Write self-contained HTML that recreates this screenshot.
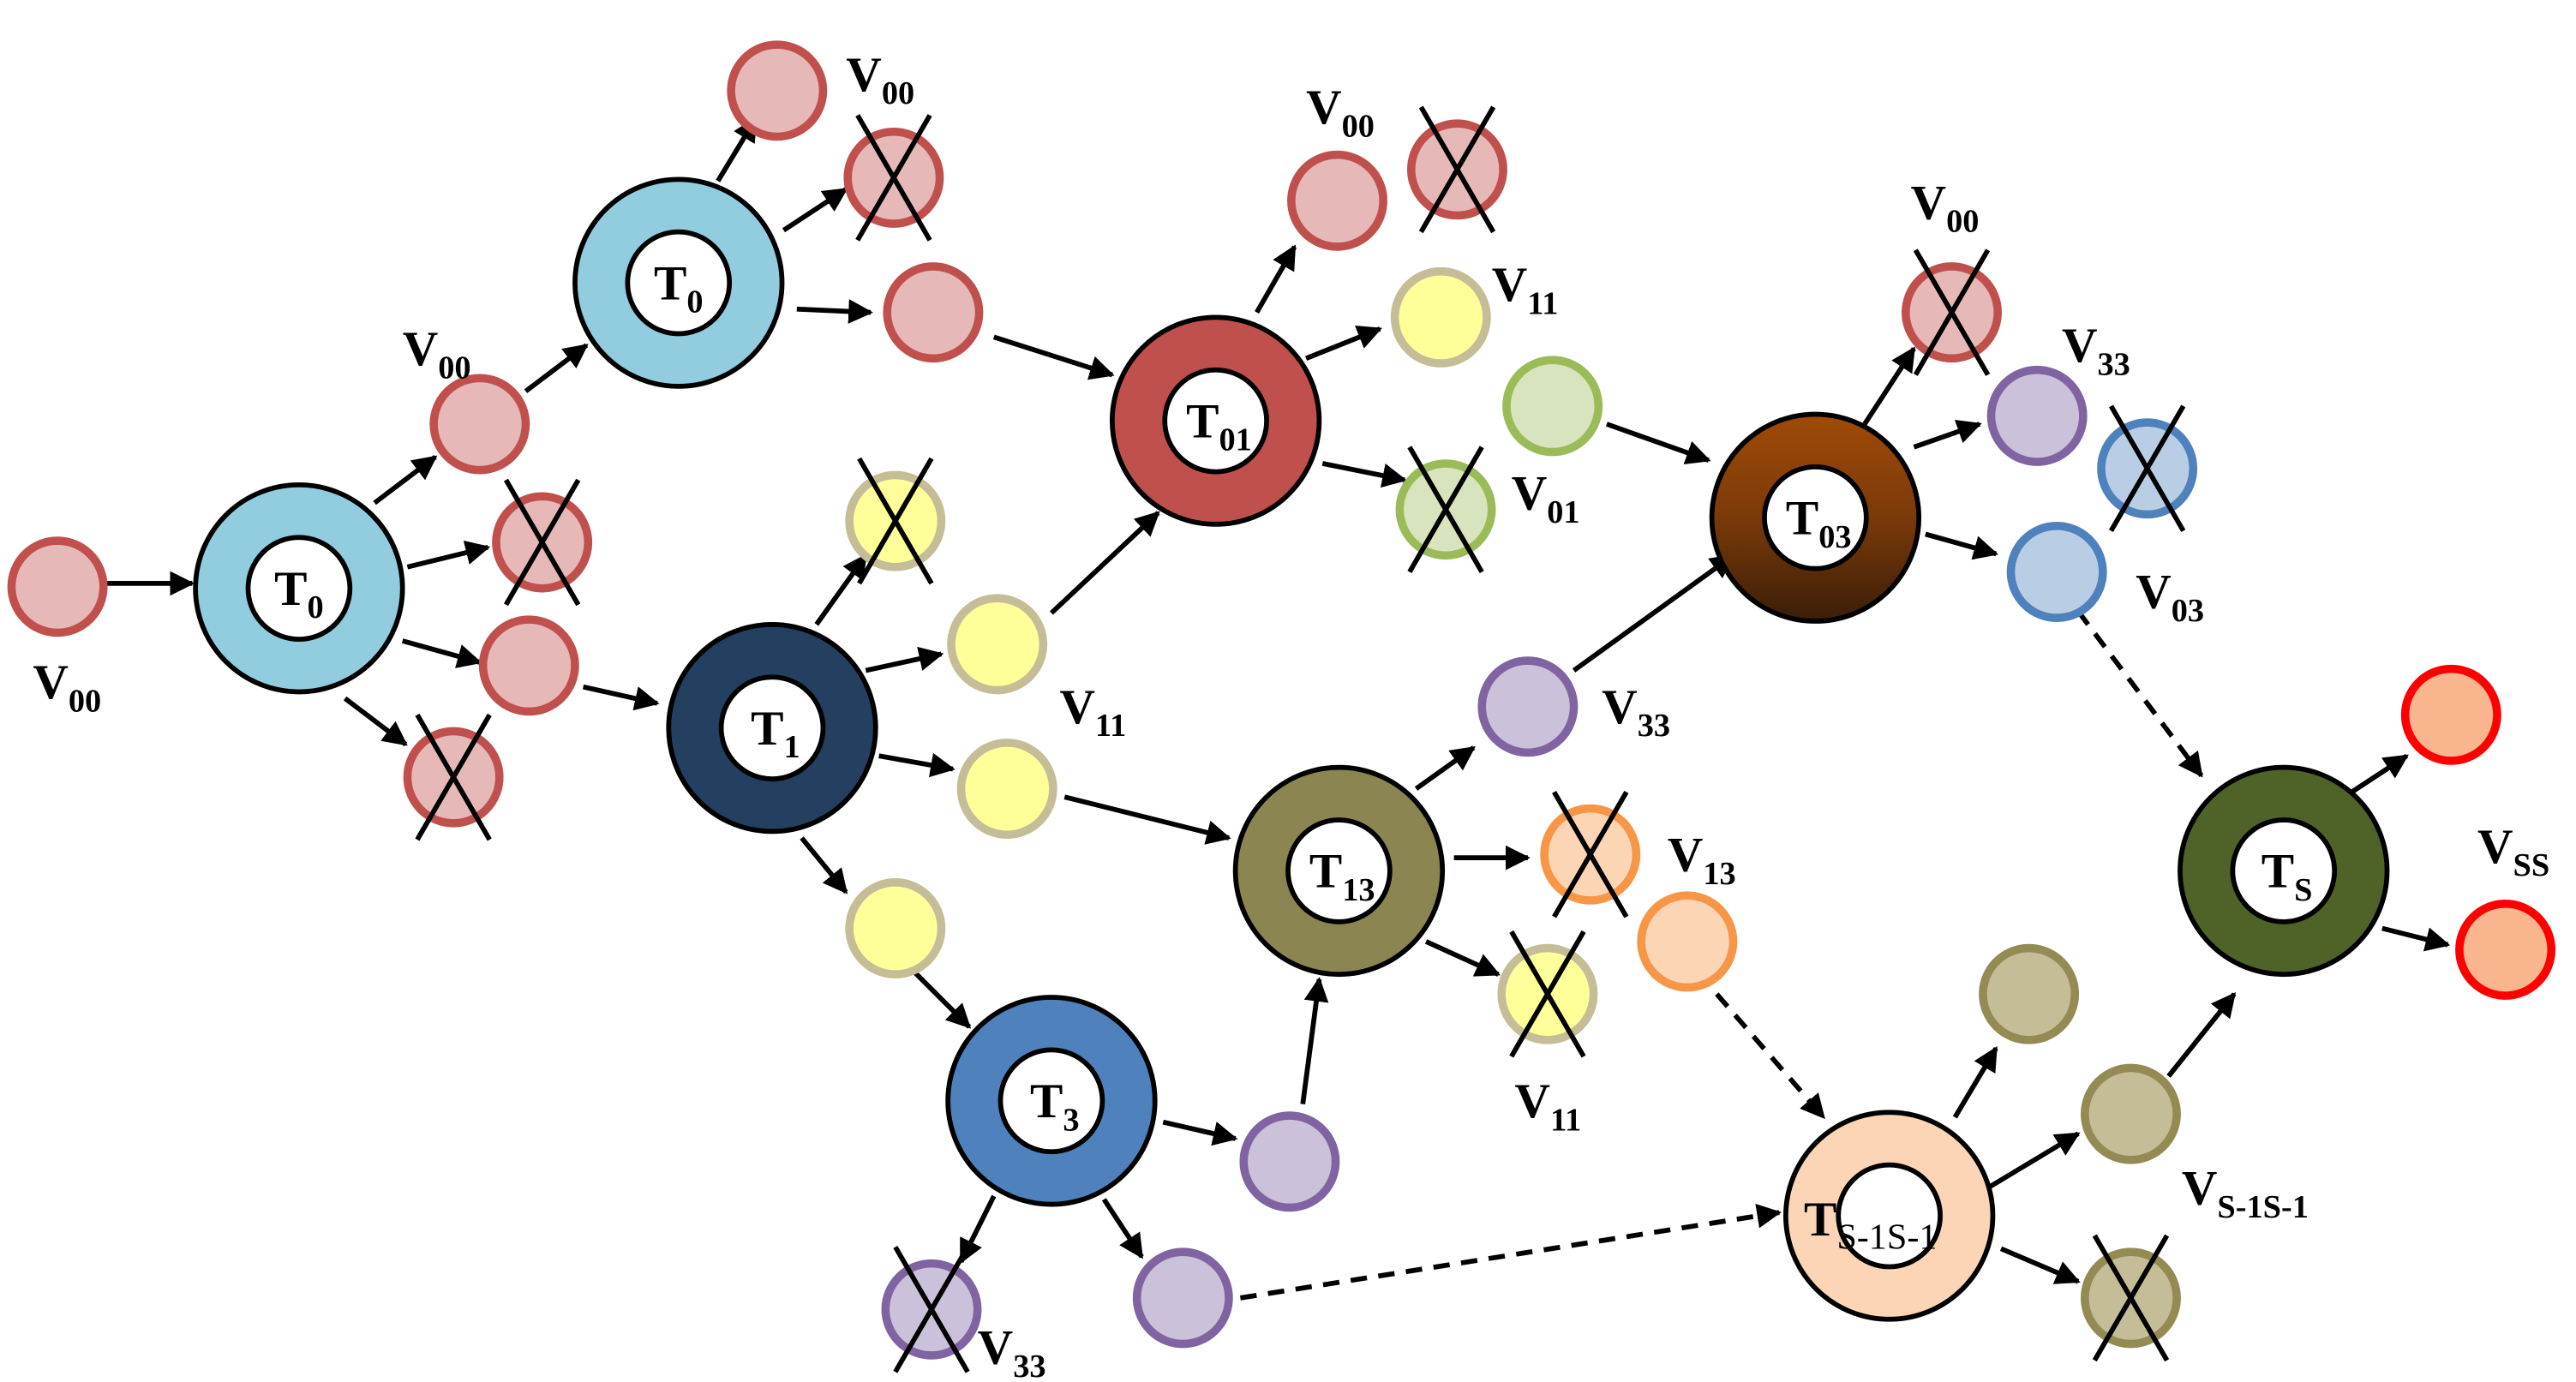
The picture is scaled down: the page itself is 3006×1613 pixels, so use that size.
<!DOCTYPE html>
<html><head><meta charset="utf-8"><style>html,body{margin:0;padding:0;background:#fff}svg{display:block}</style></head>
<body>
<svg width="3006" height="1613" viewBox="0 0 1568 841" xmlns="http://www.w3.org/2000/svg" font-family="Liberation Serif, serif">
<defs>
<marker id="a" viewBox="0 0 10 10" refX="9" refY="5" markerWidth="5" markerHeight="5" orient="auto" markerUnits="strokeWidth"><path d="M0,0L10,5L0,10z" fill="#000"/></marker>
<linearGradient id="br" x1="0" y1="0" x2="0" y2="1"><stop offset="0" stop-color="#A04A08"/><stop offset="0.5" stop-color="#7A3A0A"/><stop offset="1" stop-color="#3A1E08"/></linearGradient>
<g id="x"><line x1="-22" y1="-38" x2="22" y2="38" stroke="#000" stroke-width="3"/><line x1="22" y1="-38" x2="-22" y2="38" stroke="#000" stroke-width="3"/></g>
</defs>
<g stroke="#000" stroke-width="3" marker-end="url(#a)" fill="none">
<line x1="65" y1="355" x2="117" y2="355"/>
<line x1="228" y1="306" x2="265" y2="278"/>
<line x1="248" y1="345" x2="297" y2="333"/>
<line x1="245" y1="390" x2="292" y2="403"/>
<line x1="210" y1="425" x2="247" y2="453"/>
<line x1="320" y1="238" x2="357" y2="210"/>
<line x1="437" y1="110" x2="460" y2="72"/>
<line x1="477" y1="140" x2="515" y2="115"/>
<line x1="485" y1="188" x2="530" y2="190"/>
<line x1="605" y1="205" x2="677" y2="228"/>
<line x1="765" y1="190" x2="788" y2="150"/>
<line x1="795" y1="218" x2="840" y2="200"/>
<line x1="805" y1="282" x2="855" y2="292"/>
<line x1="355" y1="418" x2="400" y2="428"/>
<line x1="497" y1="380" x2="527" y2="338"/>
<line x1="527" y1="408" x2="573" y2="398"/>
<line x1="535" y1="460" x2="580" y2="468"/>
<line x1="488" y1="510" x2="515" y2="543"/>
<line x1="640" y1="373" x2="705" y2="312"/>
<line x1="648" y1="485" x2="748" y2="510"/>
<line x1="862" y1="480" x2="897" y2="455"/>
<line x1="885" y1="522" x2="930" y2="522"/>
<line x1="868" y1="573" x2="912" y2="593"/>
<line x1="958" y1="408" x2="1055" y2="338"/>
<line x1="978" y1="258" x2="1040" y2="280"/>
<line x1="1135" y1="258" x2="1165" y2="212"/>
<line x1="1165" y1="272" x2="1205" y2="258"/>
<line x1="1172" y1="325" x2="1215" y2="337"/>
<line x1="1430" y1="483" x2="1465" y2="460"/>
<line x1="1450" y1="565" x2="1490" y2="575"/>
<line x1="555" y1="590" x2="590" y2="625"/>
<line x1="708" y1="683" x2="752" y2="693"/>
<line x1="605" y1="728" x2="585" y2="768"/>
<line x1="672" y1="730" x2="695" y2="765"/>
<line x1="793" y1="672" x2="803" y2="596"/>
<line x1="1190" y1="680" x2="1215" y2="638"/>
<line x1="1210" y1="723" x2="1265" y2="690"/>
<line x1="1218" y1="760" x2="1265" y2="780"/>
<line x1="1320" y1="655" x2="1360" y2="605"/>
<g stroke-dasharray="10,7">
<line x1="1265" y1="372" x2="1340" y2="472"/>
<line x1="755" y1="790" x2="1083" y2="738"/>
<line x1="1045" y1="605" x2="1110" y2="680"/>
</g>
</g>
<g stroke-width="5">
<g fill="#E6B9B8" stroke="#C0504D">
<circle cx="35" cy="357" r="28"/><circle cx="292" cy="258" r="28"/><circle cx="330" cy="330" r="28"/><circle cx="322" cy="405" r="28"/><circle cx="276" cy="473" r="28"/>
<circle cx="473" cy="55" r="28"/><circle cx="544" cy="108" r="28"/><circle cx="568" cy="190" r="28"/><circle cx="814" cy="122" r="28"/><circle cx="887" cy="103" r="28"/><circle cx="1188" cy="190" r="28"/>
</g>
<g fill="#FFFF99" stroke="#C4BD97">
<circle cx="877" cy="193" r="28"/><circle cx="545" cy="317" r="28"/><circle cx="607" cy="392" r="28"/><circle cx="613" cy="480" r="28"/><circle cx="545" cy="565" r="28"/><circle cx="942" cy="605" r="28"/>
</g>
<g fill="#D7E4BD" stroke="#9BBB59"><circle cx="880" cy="310" r="28"/><circle cx="945" cy="247" r="28"/></g>
<g fill="#CCC1DA" stroke="#8064A2"><circle cx="930" cy="430" r="28"/><circle cx="1240" cy="253" r="28"/><circle cx="785" cy="707" r="28"/><circle cx="567" cy="797" r="28"/><circle cx="720" cy="790" r="28"/></g>
<g fill="#FCD5B5" stroke="#F79646"><circle cx="968" cy="520" r="28"/><circle cx="1027" cy="573" r="28"/></g>
<g fill="#B9CDE5" stroke="#4F81BD"><circle cx="1307" cy="285" r="28"/><circle cx="1252" cy="348" r="28"/></g>
<g fill="#C4BD97" stroke="#948A54"><circle cx="1235" cy="605" r="28"/><circle cx="1297" cy="678" r="28"/><circle cx="1297" cy="790" r="28"/></g>
<g fill="#F9B68E" stroke="#FF0000"><circle cx="1492" cy="435" r="28"/><circle cx="1525" cy="578" r="28"/></g>
</g>
<use href="#x" x="330" y="330"/><use href="#x" x="276" y="473"/><use href="#x" x="544" y="108"/><use href="#x" x="887" y="103"/><use href="#x" x="1188" y="190"/>
<use href="#x" x="545" y="317"/><use href="#x" x="942" y="605"/><use href="#x" x="880" y="310"/><use href="#x" x="567" y="797"/><use href="#x" x="968" y="520"/><use href="#x" x="1307" y="285"/><use href="#x" x="1297" y="790"/>
<g stroke="#000" stroke-width="3">
<circle cx="182" cy="358" r="63" fill="#92CDDF"/><circle cx="182" cy="358" r="31" fill="#fff"/>
<circle cx="413" cy="172" r="63" fill="#92CDDF"/><circle cx="413" cy="172" r="31" fill="#fff"/>
<circle cx="740" cy="256" r="63" fill="#C0504D"/><circle cx="740" cy="256" r="31" fill="#fff"/>
<circle cx="470" cy="443" r="63" fill="#243F60"/><circle cx="470" cy="443" r="31" fill="#fff"/>
<circle cx="815" cy="530" r="63" fill="#8B8552"/><circle cx="815" cy="530" r="31" fill="#fff"/>
<circle cx="1105" cy="315" r="63" fill="url(#br)"/><circle cx="1105" cy="315" r="31" fill="#fff"/>
<circle cx="1390" cy="530" r="63" fill="#4F6228"/><circle cx="1390" cy="530" r="31" fill="#fff"/>
<circle cx="640" cy="670" r="63" fill="#4F81BD"/><circle cx="640" cy="670" r="31" fill="#fff"/>
<circle cx="1150" cy="740" r="63" fill="#FBD5B5"/><circle cx="1150" cy="740" r="31" fill="#fff"/>
</g>
<g font-weight="bold" font-size="30" fill="#000">
<g text-anchor="middle">
<text x="182" y="368">T<tspan font-size="20" dy="8">0</tspan></text>
<text x="413" y="182">T<tspan font-size="20" dy="8">0</tspan></text>
<text x="742" y="266">T<tspan font-size="20" dy="8">01</tspan></text>
<text x="472" y="453">T<tspan font-size="20" dy="8">1</tspan></text>
<text x="817" y="540">T<tspan font-size="20" dy="8">13</tspan></text>
<text x="1107" y="325">T<tspan font-size="20" dy="8">03</tspan></text>
<text x="1392" y="540">T<tspan font-size="20" dy="8">S</tspan></text>
<text x="642" y="680">T<tspan font-size="20" dy="8">3</tspan></text>
</g>
<text x="1098" y="752">T<tspan font-size="22" dy="8" font-weight="normal">S-1S-1</tspan></text>
<text x="20" y="425">V<tspan font-size="20" dy="8">00</tspan></text>
<text x="245" y="222">V<tspan font-size="20" dy="8">00</tspan></text>
<text x="515" y="55">V<tspan font-size="20" dy="8">00</tspan></text>
<text x="795" y="75">V<tspan font-size="20" dy="8">00</tspan></text>
<text x="908" y="183">V<tspan font-size="20" dy="8">11</tspan></text>
<text x="920" y="310">V<tspan font-size="20" dy="8">01</tspan></text>
<text x="645" y="440">V<tspan font-size="20" dy="8">11</tspan></text>
<text x="975" y="440">V<tspan font-size="20" dy="8">33</tspan></text>
<text x="1015" y="530">V<tspan font-size="20" dy="8">13</tspan></text>
<text x="922" y="680">V<tspan font-size="20" dy="8">11</tspan></text>
<text x="1163" y="133">V<tspan font-size="20" dy="8">00</tspan></text>
<text x="1255" y="220">V<tspan font-size="20" dy="8">33</tspan></text>
<text x="1300" y="370">V<tspan font-size="20" dy="8">03</tspan></text>
<text x="1508" y="525">V<tspan font-size="20" dy="8">SS</tspan></text>
<text x="595" y="830">V<tspan font-size="20" dy="8">33</tspan></text>
<text x="1328" y="733">V<tspan font-size="20" dy="8">S-1S-1</tspan></text>
</g>
</svg>
</body></html>
